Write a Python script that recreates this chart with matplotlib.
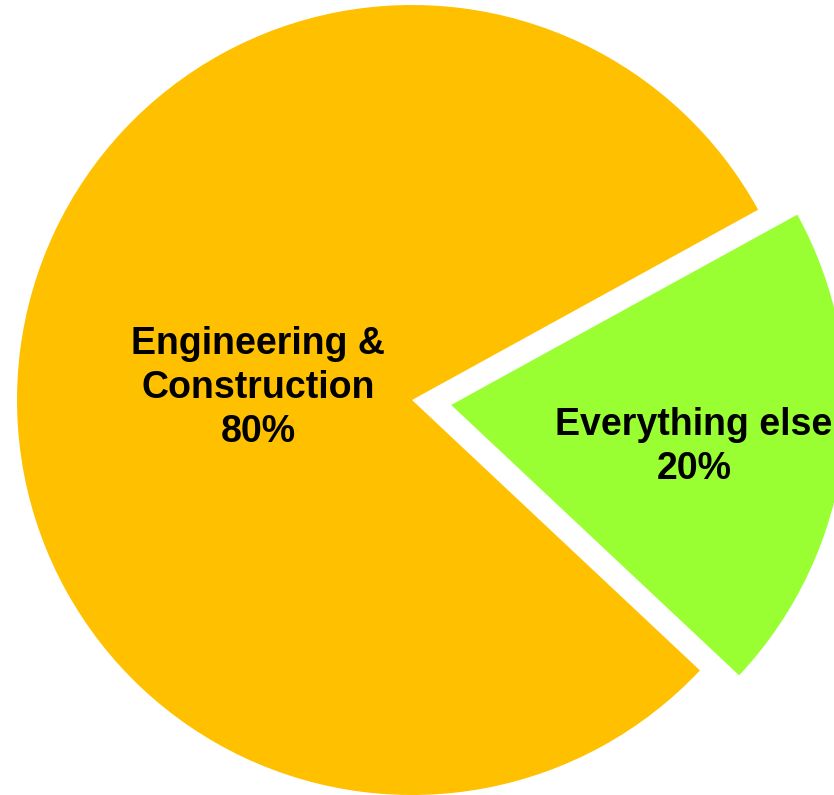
import matplotlib.pyplot as plt

plt.rcParams['font.family'] = ['Liberation Sans', 'DejaVu Sans']

labels = ['Engineering &\nConstruction', 'Everything else']
shares = [80, 20]
colors = ['#FFC000', '#99FF33']
explode = [0, 0.1]

# label block centres, in pie units (radius = 1)
label_xy = [(-0.39, 0.030), (0.714, -0.118)]

fig = plt.figure(figsize=(8.34, 7.95), dpi=100)
ax = fig.add_axes([0, 0, 1, 1])

wedges, _ = ax.pie(shares, colors=colors, explode=explode, startangle=28.8,
                   radius=1.0, wedgeprops=dict(linewidth=0))

for lab, share, (x, y) in zip(labels, shares, label_xy):
    ax.text(x, y, f'{lab}\n{share}%', ha='center', va='center',
            fontsize=27, fontweight='bold', color='black', linespacing=1.28)

# pie centre at (412, 400) px from top-left, radius 395 px
ax.set_xlim(-412 / 395, 422 / 395)
ax.set_ylim(-395 / 395, 400 / 395)
ax.set_aspect('auto')
ax.axis('off')

plt.savefig('out.png', dpi=100)
